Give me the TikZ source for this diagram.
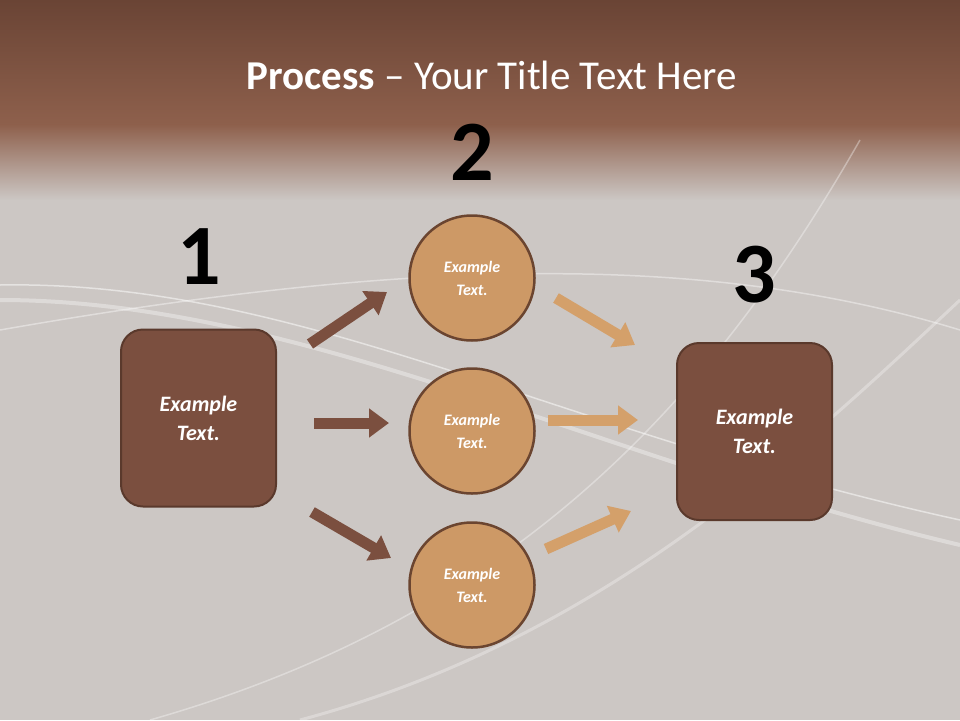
\documentclass[tikz,border=0pt]{standalone}
\usepackage{fontspec}
\setmainfont{Carlito}
\usetikzlibrary{arrows.meta}
\definecolor{bgg}{HTML}{CCC7C4}
\definecolor{topb}{HTML}{6A4435}
\definecolor{midb}{HTML}{8E604C}
\definecolor{boxb}{HTML}{7B4F3F}
\definecolor{boxe}{HTML}{5A392C}
\definecolor{circf}{HTML}{CD9966}
\definecolor{circe}{HTML}{6B4530}
\definecolor{tan}{HTML}{D4A06A}
\tikzset{
 sq/.style={draw=boxe,line width=2pt,fill=boxb,rounded corners=22pt,minimum width=155pt,minimum height=177pt,text=white,font=\fontsize{22}{29}\selectfont\bfseries\itshape,align=center},
 circ/.style={circle,draw=circe,line width=2.5pt,fill=circf,minimum size=125pt,text=white,font=\fontsize{16}{23}\selectfont\bfseries\itshape,align=center},
 num/.style={font=\fontsize{86}{86}\selectfont\bfseries,text=black},
 barr/.style={draw=boxb,line width=11pt,-{Triangle[length=20pt,width=28pt]}},
 tarr/.style={draw=tan,line width=11pt,-{Triangle[length=20pt,width=28pt]}},
 wave/.style={white,opacity=0.5,line width=1.5pt}
}
\begin{document}
\begin{tikzpicture}[x=1pt,y=-1pt]
\useasboundingbox (0,0) rectangle (960,720);
\fill[bgg] (0,0) rectangle (960,720);
\shade[top color=topb,bottom color=midb] (0,0) rectangle (960,125);
\shade[top color=midb,bottom color=bgg] (0,124.5) rectangle (960,200);
\draw[wave] (0,285) .. controls (300,280) and (550,430) .. (960,520);
\draw[wave,opacity=0.35,line width=4pt] (0,300) .. controls (300,300) and (600,460) .. (960,545);
\draw[wave,opacity=0.4] (0,330) .. controls (400,260) and (700,250) .. (960,330);
\draw[wave,opacity=0.35] (150,720) .. controls (500,620) and (700,420) .. (860,140);
\draw[wave,opacity=0.3,line width=3pt] (300,720) .. controls (600,640) and (800,450) .. (960,300);
\node[text=white,font=\fontsize{41}{46}\selectfont] (title) at (492,75) {\textbf{Process} – Your Title Text Here};
\node[num] (n1) at (199,257) {1};
\node[num] (n2) at (472,152) {2};
\node[num] (n3) at (754,275) {3};
\node[sq] (L) at (198.5,418) {Example\\Text.};
\node[sq] (R) at (754.5,431.5) {Example\\Text.};
\node[circ] (c1) at (472,278) {Example\\Text.};
\node[circ] (c2) at (472,431) {Example\\Text.};
\node[circ] (c3) at (472,585) {Example\\Text.};
\coordinate (a1s) at (310,344); \coordinate (a1e) at (387,292);
\coordinate (a2s) at (314,423); \coordinate (a2e) at (389,423);
\coordinate (a3s) at (312,512); \coordinate (a3e) at (391,558);
\coordinate (b1s) at (556,298); \coordinate (b1e) at (635,345);
\coordinate (b2s) at (548,420); \coordinate (b2e) at (638,420);
\coordinate (b3s) at (546,549); \coordinate (b3e) at (631,511);
\draw[barr] (a1s) -- (a1e);
\draw[barr] (a2s) -- (a2e);
\draw[barr] (a3s) -- (a3e);
\draw[tarr] (b1s) -- (b1e);
\draw[tarr] (b2s) -- (b2e);
\draw[tarr] (b3s) -- (b3e);
\end{tikzpicture}
\end{document}
